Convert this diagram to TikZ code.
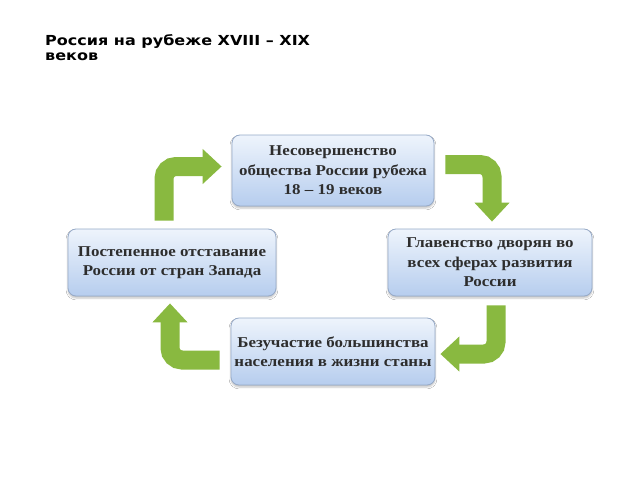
\documentclass[tikz,border=0pt]{standalone}
\usepackage{fontspec}
\setmainfont{Liberation Serif}
\newfontfamily\titlefont[FakeStretch=1.16]{DejaVu Sans}
\newfontfamily\boxfont[FakeStretch=1.13]{Liberation Serif}
\usetikzlibrary{arrows.meta, shadows.blur}
\definecolor{BoxTop}{RGB}{238, 244, 252}
\definecolor{BoxBottom}{RGB}{182, 205, 238}
\definecolor{BoxEdge}{RGB}{150, 170, 200}
\definecolor{LeafGreen}{RGB}{137, 185, 64}
\definecolor{TextGray}{RGB}{45, 45, 45}
\tikzset{
  stage/.style={rectangle, rounded corners=8pt, minimum width=204pt,
    minimum height=67pt, inner sep=2pt, align=center, draw=BoxEdge,
    line width=0.8pt, top color=BoxTop, bottom color=BoxBottom,
    text=TextGray, font=\boxfont\bfseries\fontsize{15}{19.5}\selectfont,
    blur shadow={shadow xshift=0pt, shadow yshift=-2pt,
      shadow opacity=25, shadow blur steps=4}},
  bentarrow/.style={draw=LeafGreen, line width=19pt, rounded corners=12pt,
    -{Triangle[width=34pt, length=19pt]}},
}

\begin{document}
\begin{tikzpicture}[x=1pt, y=-1pt]
  \fill[white] (0,0) rectangle (640,480);
  \useasboundingbox (0,0) rectangle (640,480);

  \node[anchor=north west, inner sep=0pt, align=left, text=black,
        font=\titlefont\bfseries\fontsize{13.8}{15}\selectfont] (title)
    at (45,34.5) {Россия на рубеже XVIII – XIX\\веков};

  \node[stage, minimum width=202pt, minimum height=71pt] (top) at (333,170.5)
    {Несовершенство\\общества России рубежа\\18 – 19 веков};
  \node[stage] (right) at (490,262.5)
    {Главенство дворян во\\всех сферах развития\\России};
  \node[stage] (bottom) at (333,351.5)
    {Безучастие большинства\\населения в жизни станы};
  \node[stage, minimum width=208pt] (left) at (172,262.5)
    {Постепенное отставание\\России от стран Запада};

  \coordinate (a1s) at ([xshift=-8pt, yshift=8pt]left.north);
  \coordinate (a1e) at ([xshift=-10pt, yshift=4pt]top.west);
  \coordinate (a2s) at ([xshift=11pt, yshift=6pt]top.east);
  \coordinate (a2e) at ([xshift=2pt, yshift=7pt]right.north);
  \coordinate (a3s) at ([xshift=6pt, yshift=-9pt]right.south);
  \coordinate (a3e) at ([xshift=5pt, yshift=-2.5pt]bottom.east);
  \coordinate (a4s) at ([xshift=-11pt, yshift=-8.5pt]bottom.west);
  \coordinate (a4e) at ([xshift=-2pt, yshift=-7pt]left.south);

  \draw[bentarrow] (a1s) |- (a1e);
  \draw[bentarrow] (a2s) -| (a2e);
  \draw[bentarrow] (a3s) |- (a3e);
  \draw[bentarrow] (a4s) -| (a4e);
\end{tikzpicture}
\end{document}
